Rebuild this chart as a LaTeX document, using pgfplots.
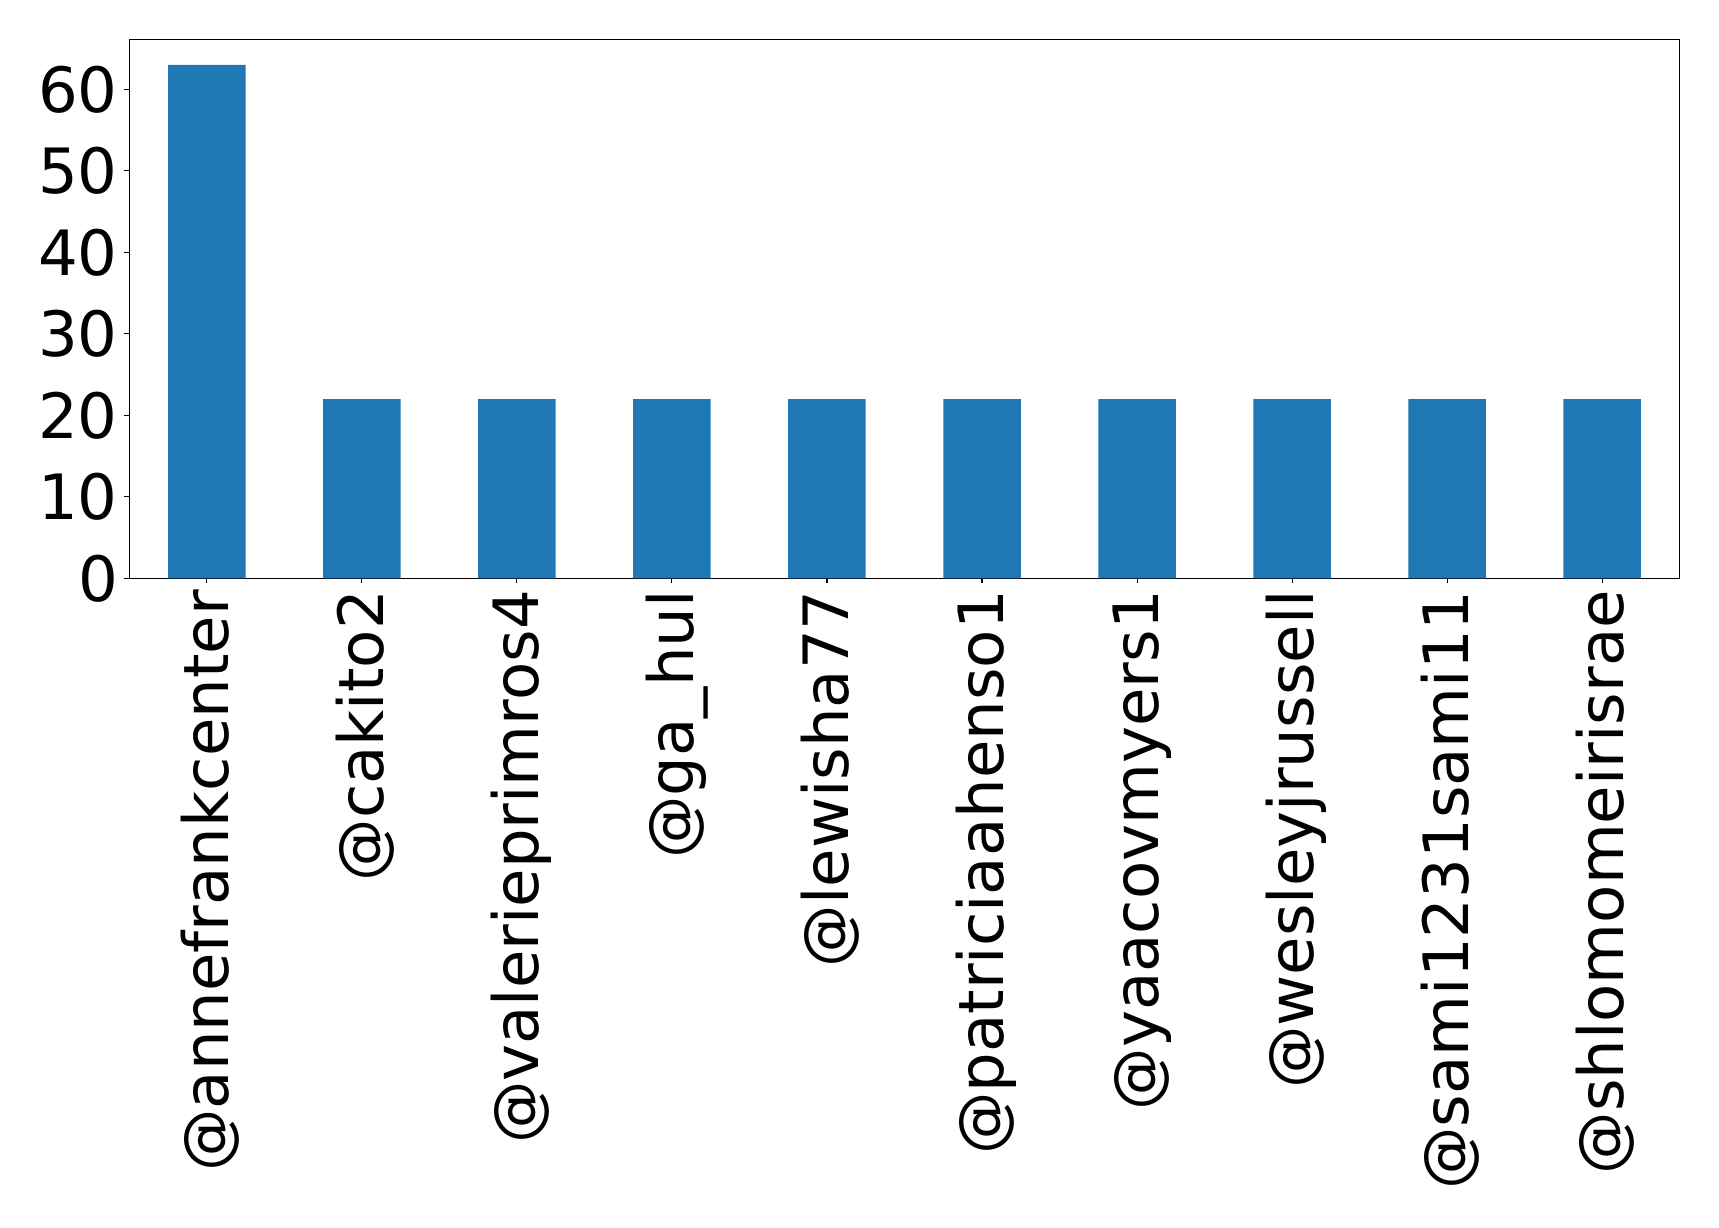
\documentclass[border=0pt]{standalone}
\usepackage{fontspec}
\setmainfont{DejaVu Sans}
\usepackage{pgfplots}
\pgfplotsset{compat=1.18}
\definecolor{barblue}{HTML}{1F77B4}

\begin{document}
\fontsize{45}{54}\selectfont
\begin{tikzpicture}
\begin{axis}[
  scale only axis,
  width=1116.3pt, height=388.1pt,
  xmin=-0.5, xmax=9.5,
  ymin=0, ymax=66.15,
  axis line style={line width=0.8pt, black},
  every tick/.style={line width=0.8pt, black},
  tick align=outside,
  major tick length=3.5pt,
  xtick pos=bottom, ytick pos=left,
  ytick={0,10,20,30,40,50,60},
  xtick={0,1,2,3,4,5,6,7,8,9},
  xticklabels={@annefrankcenter,@cakito2,@valerieprimros4,@ga\_hul,@lewisha77,@patriciaahenso1,@yaacovmyers1,@wesleyjrussell,@sami1231sami11,@shlomomeirisrae},
  /pgf/number format/assume math mode=true,
  yticklabel style={anchor=east, inner sep=0pt, xshift=-4.6pt},
  xticklabel style={yshift=-4.9pt, rotate=90, anchor=east, inner sep=0pt,
    text height=0.928em, text depth=0.236em},
  tick label style={font=\fontsize{45}{54}\selectfont},
  axis background/.style={fill=white},
]
\addplot[ybar, bar width=0.5, fill=barblue, draw=none] coordinates {
  (0,63) (1,22) (2,22) (3,22) (4,22) (5,22) (6,22) (7,22) (8,22) (9,22)
};
\end{axis}
\pgfresetboundingbox
\path[use as bounding box]
  ([xshift=-93.1pt,yshift=-467.1pt]current axis.south west) rectangle
  ([xshift=28.3pt,yshift=28.3pt]current axis.north east);
\end{tikzpicture}
\end{document}
